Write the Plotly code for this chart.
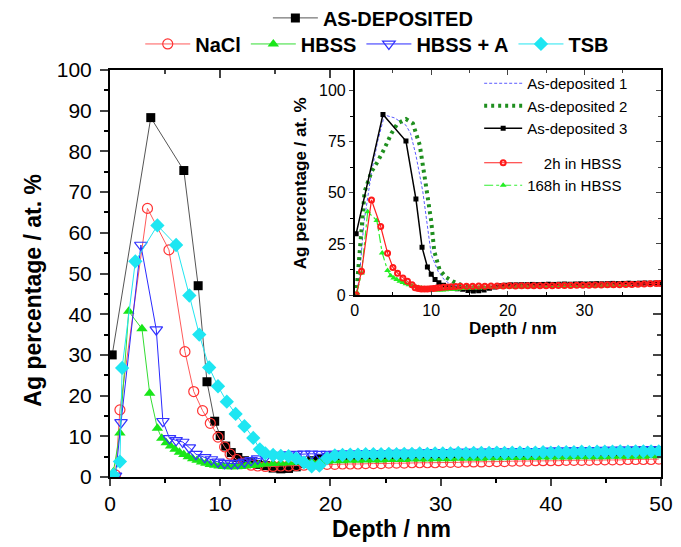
import plotly.graph_objects as go

FONT = "Liberation Sans, Arial, sans-serif"

# ---------------- main plot data ----------------
# shared tail depth grid (nm)
tail_x = [14.1, 14.8, 15.5, 16.2, 16.9, 17.6, 18.3, 19.0, 19.7, 20.4, 21.1, 21.8, 22.5, 23.2,
          23.9, 24.6, 25.3, 26.0, 26.7, 27.4, 28.1, 28.8, 29.5, 30.2, 30.9, 31.6, 32.3, 33.0,
          33.7, 34.4, 35.1, 35.8, 36.5, 37.2, 37.9, 38.6, 39.3, 40.0, 40.7, 41.4, 42.1, 42.8,
          43.5, 44.2, 44.9, 45.6, 46.3, 47.0, 47.7, 48.4, 49.1, 49.8]

asdep_head_x = [0.2, 3.7, 6.7, 8.0, 8.8, 9.5, 10.0, 10.5, 11.0, 11.6, 12.2, 12.8, 13.4]
asdep_head_y = [30.0, 88.3, 75.3, 47.0, 23.4, 13.7, 10.2, 7.6, 6.0, 4.8, 4.0, 3.5, 3.1]
asdep_tail_y = [2.8, 2.2, 2.0, 2.1, 2.5, 3.3, 4.0, 4.5, 4.8, 5.0, 5.0, 5.1, 5.1, 5.2,
                5.1, 5.2, 5.3, 5.2, 5.3, 5.4, 5.3, 5.4, 5.5, 5.4, 5.5, 5.6, 5.5, 5.6,
                5.7, 5.6, 5.7, 5.8, 5.7, 5.8, 5.9, 5.8, 5.9, 6.0, 5.9, 6.0, 6.1, 6.0,
                6.1, 6.2, 6.1, 6.2, 6.3, 6.2, 6.3, 6.4, 6.3, 6.4]

nacl_head_x = [0.5, 0.9, 3.4, 5.35, 6.8, 7.6, 8.4, 9.1, 9.8, 10.4, 10.9, 11.5, 12.1, 12.8, 13.4]
nacl_head_y = [0.5, 16.5, 66.0, 55.8, 30.8, 21.0, 16.3, 13.2, 9.8, 7.4, 5.6, 4.3, 3.4, 2.9, 2.7]
nacl_tail_y = [2.6, 2.6, 2.7, 2.7, 2.8, 2.9, 3.0, 3.0, 3.1, 3.1, 3.2, 3.2, 3.2, 3.3,
               3.3, 3.3, 3.4, 3.4, 3.4, 3.5, 3.5, 3.5, 3.5, 3.6, 3.6, 3.6, 3.7, 3.7,
               3.7, 3.8, 3.8, 3.8, 3.9, 3.9, 3.9, 4.0, 4.0, 4.0, 4.0, 4.1, 4.1, 4.1,
               4.1, 4.2, 4.2, 4.2, 4.2, 4.3, 4.3, 4.3, 4.3, 4.4]

hbss_head_x = [0.3, 0.9, 1.7, 2.9, 3.6, 4.3, 4.7, 5.1, 5.5, 5.9, 6.3, 6.7, 7.1, 7.5, 7.9,
               8.3, 8.7, 9.1, 9.5, 9.9, 10.3, 10.7, 11.1, 11.5, 11.9, 12.3, 12.7, 13.1, 13.5]
hbss_head_y = [1.2, 10.8, 40.7, 36.4, 20.6, 12.0, 9.5, 8.4, 7.6, 6.8, 6.1, 5.5, 5.0, 4.5, 4.1,
               3.7, 3.4, 3.1, 2.9, 2.7, 2.6, 2.5, 2.5, 2.5, 2.6, 2.7, 2.8, 2.9, 3.0]
hbss_tail_y = [3.2, 3.3, 3.4, 3.5, 3.6, 3.7, 3.8, 3.8, 3.9, 4.0, 4.0, 4.1, 4.1, 4.2,
               4.2, 4.2, 4.3, 4.3, 4.3, 4.4, 4.4, 4.4, 4.5, 4.5, 4.5, 4.6, 4.6, 4.6,
               4.6, 4.7, 4.7, 4.7, 4.8, 4.8, 4.8, 4.8, 4.9, 4.9, 4.9, 4.9, 5.0, 5.0,
               5.0, 5.0, 5.0, 5.1, 5.1, 5.1, 5.1, 5.1, 5.2, 5.2]

hbssa_head_x = [0.5, 1.0, 2.8, 4.2, 4.8, 5.4, 6.0, 6.6, 7.2, 7.8, 8.6, 9.2, 9.8, 10.4,
                11.0, 11.6, 12.2, 12.8, 13.4]
hbssa_head_y = [0.3, 13.4, 57.0, 36.2, 13.7, 9.5, 9.0, 8.6, 7.2, 5.6, 4.8, 4.3, 3.7, 3.4,
                3.3, 3.4, 3.7, 4.1, 4.5]
hbssa_tail_y = [4.9, 5.2, 5.4, 5.5, 5.6, 5.7, 5.7, 5.6, 5.6, 5.6, 5.7, 5.7, 5.7, 5.8,
                5.8, 5.8, 5.8, 5.9, 5.9, 5.9, 5.9, 6.0, 6.0, 6.0, 6.0, 6.1, 6.1, 6.1,
                6.1, 6.2, 6.2, 6.2, 6.2, 6.3, 6.3, 6.3, 6.3, 6.4, 6.4, 6.4, 6.5, 6.5,
                6.5, 6.5, 6.6, 6.6, 6.6, 6.7, 6.7, 6.7, 6.8, 6.8]

tsb_head_x = [0.3, 0.9, 1.1, 2.3, 4.3, 6.0, 7.2, 8.1, 9.0, 9.8, 10.6, 11.4, 12.2, 13.0, 13.6]
tsb_head_y = [0.5, 3.8, 26.8, 53.0, 61.8, 57.0, 44.6, 35.0, 26.9, 22.3, 18.5, 15.5, 12.5, 9.6, 6.8]
tsb_tail_y = [5.8, 5.4, 5.2, 5.1, 4.6, 3.6, 2.6, 2.8, 4.6, 5.3, 5.4, 5.5, 5.5, 5.6,
              5.6, 5.6, 5.7, 5.6, 5.7, 5.7, 5.8, 5.7, 5.8, 5.8, 5.8, 5.9, 5.8, 5.9,
              5.9, 5.9, 6.0, 5.9, 6.0, 6.0, 6.0, 6.0, 6.1, 6.0, 6.1, 6.1, 6.1, 6.2,
              6.1, 6.2, 6.2, 6.2, 6.3, 6.2, 6.3, 6.3, 6.3, 6.3]

# ---------------- inset data ----------------
ad1_x = [0.2, 0.6, 1.2, 2.2, 3.0, 3.9, 5.2, 6.7, 7.3, 8.0, 8.9, 9.3, 10.0, 10.9, 11.7,
         12.6, 14.0, 16.0, 20.0, 25.0, 30.0, 35.0, 40.0]
ad1_y = [0.0, 8.0, 35.0, 60.0, 75.0, 88.0, 86.6, 83.0, 79.0, 68.4, 50.6, 39.0, 19.7, 11.6, 7.5,
         5.0, 4.0, 4.0, 4.3, 4.6, 5.0, 5.3, 5.6]

ad2_x = [0.2, 0.9, 1.3, 2.2, 3.0, 3.9, 4.8, 5.6, 6.7, 7.6, 8.5, 9.3, 10.0, 10.4, 11.1,
         11.9, 12.8, 13.9, 15.0, 17.0, 20.0, 25.0, 30.0, 35.0, 40.0]
ad2_y = [0.0, 31.0, 50.6, 60.3, 65.2, 71.7, 79.0, 83.9, 86.0, 83.9, 73.3, 53.8, 36.0, 21.3, 12.3,
         8.8, 6.7, 5.0, 4.2, 4.0, 4.2, 4.5, 4.8, 5.0, 5.3]

h2_x = [0.2, 0.9, 2.2, 3.4, 4.3, 5.0, 5.6, 6.3, 6.9, 7.5, 7.9, 8.3, 8.7, 9.1, 9.5, 9.9,
        10.3, 10.7, 11.1, 11.6, 12.1, 12.6, 13.2, 13.8, 14.6, 15.4, 16.2, 17.0, 17.8, 18.6,
        19.4, 20.2, 21.0, 21.8, 22.6, 23.4, 24.2, 25.0, 25.8, 26.6, 27.4, 28.2, 29.0, 29.8,
        30.6, 31.4, 32.2, 33.0, 33.8, 34.6, 35.4, 36.2, 37.0, 37.8, 38.6, 39.4, 39.9]
h2_y = [0.0, 11.6, 46.5, 33.5, 20.5, 13.5, 10.7, 8.3, 6.7, 5.0, 3.6, 3.2, 3.0, 3.0, 3.0, 3.1,
        3.2, 3.4, 3.6, 3.8, 4.0, 4.1, 4.2, 4.3, 4.3, 4.3, 4.4, 4.3, 4.4, 4.4,
        4.4, 4.5, 4.4, 4.5, 4.5, 4.5, 4.6, 4.6, 4.6, 4.7, 4.7, 4.7, 4.8, 4.8,
        4.8, 4.9, 4.9, 5.0, 5.0, 5.1, 5.2, 5.2, 5.3, 5.4, 5.5, 5.6, 5.7]

INSET_HBSS_MAX_DEPTH = 36.0

# ---------------- assemble ----------------
asdep_x = asdep_head_x + tail_x
asdep_y = asdep_head_y + asdep_tail_y
nacl_x = nacl_head_x + tail_x
nacl_y = nacl_head_y + nacl_tail_y
hbss_x = hbss_head_x + tail_x
hbss_y = hbss_head_y + hbss_tail_y
hbssa_x = hbssa_head_x + tail_x
hbssa_y = hbssa_head_y + hbssa_tail_y
tsb_x = tsb_head_x + tail_x
tsb_y = tsb_head_y + tsb_tail_y

h168_x = [x for x in hbss_x if x <= INSET_HBSS_MAX_DEPTH]
h168_y = [y for x, y in zip(hbss_x, hbss_y) if x <= INSET_HBSS_MAX_DEPTH]

fig = go.Figure()

# main series
fig.add_trace(go.Scatter(x=asdep_x, y=asdep_y, name="AS-DEPOSITED", mode="lines+markers",
                         line=dict(color="#555555", width=1),
                         marker=dict(symbol="square", size=9, color="black"),
                         legend="legend", showlegend=True, xaxis="x", yaxis="y"))
fig.add_trace(go.Scatter(x=nacl_x, y=nacl_y, name="NaCl", mode="lines+markers",
                         line=dict(color="#ff5a5a", width=1),
                         marker=dict(symbol="circle-open", size=10, color="#ff3333",
                                     line=dict(width=1.2)),
                         legend="legend2", xaxis="x", yaxis="y"))
fig.add_trace(go.Scatter(x=hbss_x, y=hbss_y, name="HBSS", mode="lines+markers",
                         line=dict(color="#33dd33", width=1),
                         marker=dict(symbol="triangle-up", size=10, color="#19e619"),
                         legend="legend2", xaxis="x", yaxis="y"))
fig.add_trace(go.Scatter(x=hbssa_x, y=hbssa_y, name="HBSS + A", mode="lines+markers",
                         line=dict(color="#2a2aff", width=1),
                         marker=dict(symbol="triangle-down-open", size=11, color="#3333ff",
                                     line=dict(width=1.2)),
                         legend="legend2", xaxis="x", yaxis="y"))
fig.add_trace(go.Scatter(x=tsb_x, y=tsb_y, name="TSB", mode="lines+markers",
                         line=dict(color="#22e5f0", width=1),
                         marker=dict(symbol="diamond", size=11, color="#1ee6f2"),
                         legend="legend2", xaxis="x", yaxis="y"))

# inset series
fig.add_trace(go.Scatter(x=ad1_x, y=ad1_y, name="As-deposited 1", mode="lines",
                         line=dict(color="#5a5aff", width=1, dash="3px,2px"),
                         legend="legend3", xaxis="x2", yaxis="y2"))
fig.add_trace(go.Scatter(x=ad2_x, y=ad2_y, name="As-deposited 2", mode="lines",
                         line=dict(color="#1f8f1f", width=4, dash="3px,4px"),
                         legend="legend3", xaxis="x2", yaxis="y2"))
fig.add_trace(go.Scatter(x=asdep_x, y=asdep_y, name="As-deposited 3", mode="lines+markers",
                         line=dict(color="black", width=1.5),
                         marker=dict(symbol="square", size=5, color="black"),
                         legend="legend3", xaxis="x2", yaxis="y2"))
fig.add_trace(go.Scatter(x=h168_x, y=h168_y, name="168h in HBSS", mode="lines+markers",
                         line=dict(color="#33ee33", width=1.2, dash="dashdot"),
                         marker=dict(symbol="triangle-up", size=6, color="#22ee22"),
                         legend="legend4", legendrank=2, xaxis="x2", yaxis="y2"))
fig.add_trace(go.Scatter(x=h2_x, y=h2_y, name="\u00a0\u00a0\u00a0\u00a02h in HBSS",
                         mode="lines+markers",
                         line=dict(color="#ff2020", width=1.2),
                         marker=dict(symbol="circle-open", size=5, color="#ff1a1a",
                                     line=dict(width=2)),
                         legend="legend4", legendrank=1, xaxis="x2", yaxis="y2"))

# fully transparent copies that only attach the mirrored (inward-tick) frame axes
for xa, ya, xs, ys in [("x3", "y", asdep_x, asdep_y), ("x", "y3", asdep_x, asdep_y),
                       ("x4", "y2", ad1_x, ad1_y), ("x2", "y4", ad1_x, ad1_y)]:
    fig.add_trace(go.Scatter(x=xs, y=ys, xaxis=xa, yaxis=ya, mode="markers",
                             marker=dict(opacity=0, size=1), showlegend=False,
                             hoverinfo="skip"))

tick_font = dict(family=FONT, size=21, color="black")
inset_font = dict(family=FONT, size=16, color="black")

main_x = dict(range=[0, 50], dtick=10, ticks="outside", ticklen=7, tickwidth=1.5,
              showline=True, linewidth=2, linecolor="black", showgrid=False, zeroline=False,
              tickfont=tick_font,
              minor=dict(dtick=5, ticks="outside", ticklen=4, tickwidth=1.5, tickcolor="black"))
main_y = dict(range=[0, 100], dtick=10, ticks="outside", ticklen=8, tickwidth=1.5,
              showline=True, linewidth=2, linecolor="black", showgrid=False, zeroline=False,
              tickfont=tick_font, ticklabelstandoff=4,
              minor=dict(dtick=5, ticks="outside", ticklen=4, tickwidth=1.5, tickcolor="black"))

ins_x = dict(range=[0, 40], tickvals=[0, 10, 20, 30], ticks="inside", ticklen=4, tickwidth=1,
             showline=True, linewidth=1.5, linecolor="black", showgrid=False, zeroline=False,
             tickfont=inset_font,
             minor=dict(dtick=5, ticks="inside", ticklen=3, tickwidth=1, tickcolor="black"))
ins_y = dict(range=[0, 110], tickvals=[0, 25, 50, 75, 100], ticks="outside", ticklen=4,
             tickwidth=1, showline=True, linewidth=1.5, linecolor="black", showgrid=False,
             zeroline=False, tickfont=inset_font,
             minor=dict(tickvals=[12.5, 37.5, 62.5, 87.5], ticks="outside", ticklen=3,
                        tickwidth=1, tickcolor="black"))

X0, Y0 = 0.444, 0.447
LEG_MAIN_FONT = dict(family=FONT, size=20, color="black", weight="bold")
LEG_INSET_FONT = dict(family=FONT, size=15, color="black")
FRAME = dict(showticklabels=False, showline=True, linecolor="black", showgrid=False,
             zeroline=False)

fig.update_layout(
    width=681, height=547,
    margin=dict(l=102, r=28, t=62, b=78, autoexpand=False),
    paper_bgcolor="white", plot_bgcolor="white",
    showlegend=True,
    font=dict(family=FONT, color="black"),
    xaxis=dict(domain=[0, 1], anchor="y", **main_x),
    yaxis=dict(domain=[0, 1], anchor="x", **main_y),
    xaxis3=dict(overlaying="x", side="top", anchor="y", range=[0, 50], dtick=10,
                ticks="inside", ticklen=8, tickwidth=1.5, linewidth=2,
                minor=dict(dtick=5, ticks="inside", ticklen=4, tickwidth=1.5), **FRAME),
    yaxis3=dict(overlaying="y", side="right", anchor="x", range=[0, 100], dtick=10,
                ticks="inside", ticklen=8, tickwidth=1.5, linewidth=2,
                minor=dict(dtick=5, ticks="inside", ticklen=4, tickwidth=1.5), **FRAME),
    xaxis2=dict(domain=[X0, 1], anchor="y2", **ins_x),
    yaxis2=dict(domain=[Y0, 1], anchor="x2", **ins_y),
    xaxis4=dict(overlaying="x2", side="top", anchor="y2", range=[0, 40], dtick=10,
                ticks="inside", ticklen=5, tickwidth=1, linewidth=1.5,
                minor=dict(dtick=5, ticks="inside", ticklen=3, tickwidth=1), **FRAME),
    yaxis4=dict(overlaying="y2", side="right", anchor="x2", range=[0, 110],
                tickvals=[0, 25, 50, 75, 100], ticks="inside", ticklen=5, tickwidth=1,
                linewidth=1.5,
                minor=dict(tickvals=[12.5, 37.5, 62.5, 87.5], ticks="inside", ticklen=3,
                           tickwidth=1), **FRAME),
    legend=dict(orientation="h", x=0.478, xanchor="center", y=1.128, yanchor="middle",
                bgcolor="rgba(0,0,0,0)", itemwidth=45, font=LEG_MAIN_FONT),
    legend2=dict(orientation="h", x=0.485, xanchor="center", y=1.064, yanchor="middle",
                 bgcolor="rgba(0,0,0,0)", itemwidth=45, font=LEG_MAIN_FONT),
    legend3=dict(orientation="v", x=0.670, xanchor="left", y=0.9115, yanchor="middle",
                 bgcolor="rgba(0,0,0,0)", itemwidth=38, font=LEG_INSET_FONT),
    legend4=dict(orientation="v", x=0.670, xanchor="left", y=0.7445, yanchor="middle",
                 bgcolor="rgba(0,0,0,0)", itemwidth=38, font=LEG_INSET_FONT),
    annotations=[
        dict(text="Depth / nm", xref="paper", yref="paper", x=0.51, y=-0.128,
             xanchor="center", yanchor="middle", showarrow=False,
             font=dict(family=FONT, size=23, color="black", weight="bold")),
        dict(text="Ag percentage / at. %", xref="paper", yref="paper", x=-0.140, y=0.46,
             xanchor="center", yanchor="middle", textangle=-90, showarrow=False,
             font=dict(family=FONT, size=23, color="black", weight="bold")),
        dict(text="Depth / nm", xref="paper", yref="paper", x=0.731, y=0.364,
             xanchor="center", yanchor="middle", showarrow=False,
             font=dict(family=FONT, size=17, color="black", weight="bold")),
        dict(text="Ag percentage / at. %", xref="paper", yref="paper", x=0.345, y=0.722,
             xanchor="center", yanchor="middle", textangle=-90, showarrow=False,
             font=dict(family=FONT, size=17, color="black", weight="bold")),
    ],
)

fig.write_html("out.html")
